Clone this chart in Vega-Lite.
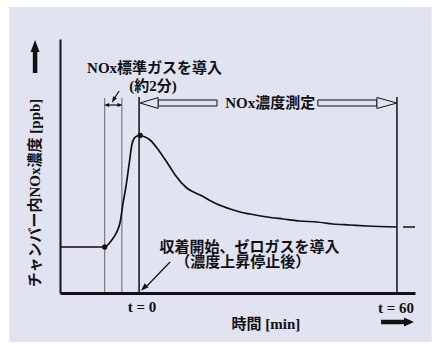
{
  "$schema": "https://vega.github.io/schema/vega-lite/v6.json",
  "width": 355,
  "height": 254,
  "autosize": {"type": "none"},
  "padding": {"left": 60, "top": 39, "right": 23, "bottom": 50},
  "background": "white",
  "config": {
    "view": {"stroke": null},
    "axis": {"ticks": false, "labels": false, "grid": false, "domainColor": "#111", "title": null},
    "axisX": {"domainWidth": 3},
    "axisY": {"domainWidth": 2},
    "text": {"font": "'Liberation Serif', 'Noto Sans CJK JP'", "fontWeight": "bold", "fontSize": 15, "color": "#111"}
  },
  "data": {"values": [{}]},
  "layer": [
    {
      "mark": {"type": "rect", "color": "#e1e3f1"},
      "encoding": {
        "x": {"datum": -30.2, "type": "quantitative", "scale": {"domain": [-18.4, 64.2], "nice": false, "zero": false}, "axis": {"title": null, "zindex": 1}},
        "x2": {"datum": 68.1},
        "y": {"datum": 286, "type": "quantitative", "scale": {"domain": [0, 254], "nice": false, "zero": false}, "axis": {"title": null, "zindex": 1}},
        "y2": {"datum": -49}
      }
    },
    {
      "data": {"values": [{"t": -8}, {"t": -4}]},
      "mark": {"type": "rule", "color": "#666", "strokeWidth": 1},
      "encoding": {
        "x": {"field": "t", "type": "quantitative"},
        "y": {"datum": 0, "type": "quantitative"},
        "y2": {"datum": 195}
      }
    },
    {
      "data": {"values": [{"t": 0}, {"t": 60}]},
      "mark": {"type": "rule", "color": "#111", "strokeWidth": 1.5},
      "encoding": {
        "x": {"field": "t", "type": "quantitative"},
        "y": {"datum": 0, "type": "quantitative"},
        "y2": {"datum": 196}
      }
    },
    {
      "data": {"values": [
        {"t": -18.4, "c": 46}, {"t": -8.0, "c": 46}, {"t": -6.35, "c": 53}, {"t": -5.2, "c": 61},
        {"t": -4.4, "c": 71}, {"t": -3.8, "c": 88}, {"t": -3.0, "c": 108}, {"t": -2.25, "c": 131},
        {"t": -1.7, "c": 148}, {"t": -1.1, "c": 155}, {"t": -0.45, "c": 157}, {"t": 0.25, "c": 157.5},
        {"t": 1.4, "c": 156}, {"t": 2.55, "c": 153}, {"t": 4.5, "c": 143}, {"t": 5.65, "c": 136},
        {"t": 7.2, "c": 126}, {"t": 8.4, "c": 118}, {"t": 11.1, "c": 105}, {"t": 14.2, "c": 98},
        {"t": 18.1, "c": 89}, {"t": 21.2, "c": 84}, {"t": 23.5, "c": 81}, {"t": 25.8, "c": 79},
        {"t": 29.8, "c": 76}, {"t": 33.5, "c": 74}, {"t": 37.4, "c": 72}, {"t": 41.4, "c": 71},
        {"t": 45.1, "c": 69}, {"t": 49.1, "c": 68}, {"t": 53.0, "c": 67}, {"t": 60.0, "c": 66}
      ]},
      "mark": {"type": "line", "color": "#111", "strokeWidth": 1.7, "interpolate": "monotone"},
      "encoding": {
        "x": {"field": "t", "type": "quantitative"},
        "y": {"field": "c", "type": "quantitative"}
      }
    },
    {
      "data": {"values": [{"t": -8.0, "c": 46}, {"t": 0.25, "c": 157.5}]},
      "mark": {"type": "point", "filled": true, "color": "#111", "size": 28, "opacity": 1},
      "encoding": {
        "x": {"field": "t", "type": "quantitative"},
        "y": {"field": "c", "type": "quantitative"}
      }
    },
    {
      "mark": {"type": "rule", "color": "#111", "strokeWidth": 1.5},
      "encoding": {
        "x": {"datum": 61.4, "type": "quantitative"},
        "x2": {"datum": 64.2},
        "y": {"datum": 66, "type": "quantitative"}
      }
    },
    {
      "mark": {"type": "rule", "color": "#111", "strokeWidth": 1.2},
      "encoding": {
        "x": {"datum": -7.7, "type": "quantitative"},
        "x2": {"datum": -4.3},
        "y": {"datum": 188, "type": "quantitative"}
      }
    },
    {
      "mark": {"type": "point", "filled": true, "color": "#111", "size": 25, "opacity": 1, "shape": "M1,-0.8L-1,0L1,0.8Z"},
      "encoding": {
        "x": {"datum": -7.55, "type": "quantitative"},
        "y": {"datum": 188, "type": "quantitative"}
      }
    },
    {
      "mark": {"type": "point", "filled": true, "color": "#111", "size": 25, "opacity": 1, "shape": "M-1,-0.8L1,0L-1,0.8Z"},
      "encoding": {
        "x": {"datum": -4.45, "type": "quantitative"},
        "y": {"datum": 188, "type": "quantitative"}
      }
    },
    {
      "mark": {"type": "rule", "color": "#111", "strokeWidth": 1.2},
      "encoding": {
        "x": {"datum": -4.65, "type": "quantitative"},
        "x2": {"datum": -5.85},
        "y": {"datum": 202, "type": "quantitative"},
        "y2": {"datum": 194}
      }
    },
    {
      "mark": {"type": "point", "filled": true, "color": "#111", "size": 40, "opacity": 1, "shape": "M-0.7,-1L0.7,-1L0,1Z", "angle": 29},
      "encoding": {
        "x": {"datum": -5.95, "type": "quantitative"},
        "y": {"datum": 193, "type": "quantitative"}
      }
    },
    {
      "mark": {"type": "rule", "color": "#111", "strokeWidth": 1.2},
      "encoding": {
        "x": {"datum": 7.21, "type": "quantitative"},
        "x2": {"datum": 1.6},
        "y": {"datum": 31, "type": "quantitative"},
        "y2": {"datum": 6}
      }
    },
    {
      "mark": {"type": "point", "filled": true, "color": "#111", "size": 64, "opacity": 1, "shape": "M-0.7,-1L0.7,-1L0,1Z", "angle": 45},
      "encoding": {
        "x": {"datum": 1.1, "type": "quantitative"},
        "y": {"datum": 5, "type": "quantitative"}
      }
    },
    {
      "mark": {"type": "rect", "fill": "#e1e3f1", "stroke": "#111", "strokeWidth": 1},
      "encoding": {
        "x": {"datum": 4.42, "type": "quantitative"},
        "x2": {"datum": 18.14},
        "y": {"datum": 187, "type": "quantitative"},
        "y2": {"datum": 193}
      }
    },
    {
      "mark": {"type": "point", "filled": false, "fill": "#e1e3f1", "stroke": "#111", "strokeWidth": 1, "size": 324, "opacity": 1, "shape": "M1,-0.6L-1,0L1,0.6Z"},
      "encoding": {
        "x": {"datum": 2.33, "type": "quantitative"},
        "y": {"datum": 190, "type": "quantitative"}
      }
    },
    {
      "mark": {"type": "rect", "fill": "#e1e3f1", "stroke": "#111", "strokeWidth": 1},
      "encoding": {
        "x": {"datum": 41.6, "type": "quantitative"},
        "x2": {"datum": 55.35},
        "y": {"datum": 187, "type": "quantitative"},
        "y2": {"datum": 193}
      }
    },
    {
      "mark": {"type": "point", "filled": false, "fill": "#e1e3f1", "stroke": "#111", "strokeWidth": 1, "size": 400, "opacity": 1, "shape": "M-1,-0.55L1,0L-1,0.55Z"},
      "encoding": {
        "x": {"datum": 57.67, "type": "quantitative"},
        "y": {"datum": 190, "type": "quantitative"}
      }
    },
    {
      "mark": {"type": "rule", "color": "#111", "strokeWidth": 4.5},
      "encoding": {
        "x": {"datum": -24.2, "type": "quantitative"},
        "y": {"datum": 220, "type": "quantitative"},
        "y2": {"datum": 242}
      }
    },
    {
      "mark": {"type": "point", "filled": true, "color": "#111", "size": 144, "opacity": 1, "shape": "M-0.75,1L0,-1L0.75,1Z"},
      "encoding": {
        "x": {"datum": -24.2, "type": "quantitative"},
        "y": {"datum": 247, "type": "quantitative"}
      }
    },
    {
      "mark": {"type": "rule", "color": "#111", "strokeWidth": 4.5},
      "encoding": {
        "x": {"datum": 56.3, "type": "quantitative"},
        "x2": {"datum": 62.0},
        "y": {"datum": -29, "type": "quantitative"}
      }
    },
    {
      "mark": {"type": "point", "filled": true, "color": "#111", "size": 100, "opacity": 1, "shape": "M-1,-0.9L1,0L-1,0.9Z"},
      "encoding": {
        "x": {"datum": 62.8, "type": "quantitative"},
        "y": {"datum": -29, "type": "quantitative"}
      }
    },
    {
      "mark": {"type": "text", "align": "center", "baseline": "middle"},
      "encoding": {
        "x": {"datum": 3.6, "type": "quantitative"},
        "y": {"datum": 225, "type": "quantitative"},
        "text": {"value": "NOx標準ガスを導入"}
      }
    },
    {
      "mark": {"type": "text", "align": "center", "baseline": "middle"},
      "encoding": {
        "x": {"datum": 3.26, "type": "quantitative"},
        "y": {"datum": 207, "type": "quantitative"},
        "text": {"value": "(約2分)"}
      }
    },
    {
      "mark": {"type": "text", "align": "center", "baseline": "middle"},
      "encoding": {
        "x": {"datum": 30.5, "type": "quantitative"},
        "y": {"datum": 190, "type": "quantitative"},
        "text": {"value": "NOx濃度測定"}
      }
    },
    {
      "mark": {"type": "text", "align": "center", "baseline": "middle"},
      "encoding": {
        "x": {"datum": 25.7, "type": "quantitative"},
        "y": {"datum": 46, "type": "quantitative"},
        "text": {"value": "収着開始、ゼロガスを導入"}
      }
    },
    {
      "mark": {"type": "text", "align": "center", "baseline": "middle"},
      "encoding": {
        "x": {"datum": 24.1, "type": "quantitative"},
        "y": {"datum": 31, "type": "quantitative"},
        "text": {"value": "（濃度上昇停止後）"}
      }
    },
    {
      "mark": {"type": "text", "align": "center", "baseline": "middle"},
      "encoding": {
        "x": {"datum": 0.7, "type": "quantitative"},
        "y": {"datum": -14, "type": "quantitative"},
        "text": {"value": "t = 0"}
      }
    },
    {
      "mark": {"type": "text", "align": "center", "baseline": "middle"},
      "encoding": {
        "x": {"datum": 59.8, "type": "quantitative"},
        "y": {"datum": -15, "type": "quantitative"},
        "text": {"value": "t = 60"}
      }
    },
    {
      "mark": {"type": "text", "align": "center", "baseline": "middle"},
      "encoding": {
        "x": {"datum": 29.5, "type": "quantitative"},
        "y": {"datum": -31, "type": "quantitative"},
        "text": {"value": "時間 [min]"}
      }
    },
    {
      "mark": {"type": "text", "align": "center", "baseline": "middle", "angle": 270},
      "encoding": {
        "x": {"datum": -24.2, "type": "quantitative"},
        "y": {"datum": 100, "type": "quantitative"},
        "text": {"value": "チャンバー内NOx濃度 [ppb]"}
      }
    }
  ]
}
